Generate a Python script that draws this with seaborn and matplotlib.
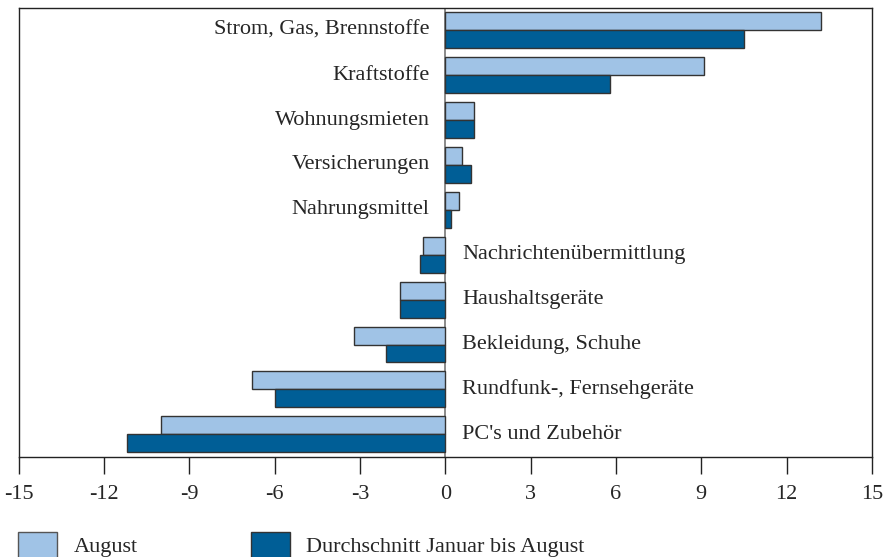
import pandas as pd
import seaborn as sns
from matplotlib import pyplot as plt
from matplotlib.patches import Patch

# data (Veränderung gegenüber Vorjahr in %)
categories = ["Strom, Gas, Brennstoffe", "Kraftstoffe", "Wohnungsmieten", "Versicherungen",
              "Nahrungsmittel", "Nachrichtenübermittlung", "Haushaltsgeräte",
              "Bekleidung, Schuhe", "Rundfunk-, Fernsehgeräte", "PC's und Zubehör"]
august = [13.2, 9.1, 1.0, 0.6, 0.5, -0.8, -1.6, -3.2, -6.8, -10.0]
durchschnitt = [10.5, 5.8, 1.0, 0.9, 0.2, -0.9, -1.6, -2.1, -6.0, -11.2]
series_names = ["August", "Durchschnitt Januar bis August"]
xticks = [-15, -12, -9, -6, -3, 0, 3, 6, 9, 12, 15]

light = "#A0C3E6"
dark = "#005E96"
fs = 16

df = pd.DataFrame({
    "kategorie": categories * 2,
    "wert": august + durchschnitt,
    "reihe": [series_names[0]] * len(categories) + [series_names[1]] * len(categories),
})

sns.set_style("white")
plt.rcParams["font.family"] = ["Liberation Serif", "DejaVu Serif"]

fig, ax = plt.subplots(figsize=(8.87, 5.57), dpi=100)
fig.subplots_adjust(left=0.021, right=0.983, top=0.986, bottom=0.18)

sns.barplot(data=df, x="wert", y="kategorie", hue="reihe", orient="h",
            palette=[light, dark], saturation=1, order=categories, hue_order=series_names,
            width=0.8, edgecolor="#333333", linewidth=1.0, legend=False, ax=ax)

ax.set_xlim(-15, 15)
ax.set_ylim(len(categories) - 0.5, -0.5)
ax.axvline(0, color="#777777", linewidth=1.2, zorder=0)

# category labels next to the zero line
ax.set_yticks([])
for i, (name, val) in enumerate(zip(categories, august)):
    if val >= 0:
        ax.text(-0.55, i, name, ha="right", va="center", fontsize=fs)
    else:
        ax.text(0.6, i, name, ha="left", va="center", fontsize=fs)

ax.set_xticks(xticks)
ax.set_xticklabels([str(t) for t in xticks], fontsize=fs)
ax.tick_params(axis="x", direction="out", length=12, width=1, color="#222222", pad=8, bottom=True)
ax.set_xlabel("")
ax.set_ylabel("")
for s in ax.spines.values():
    s.set_color("#222222")
    s.set_linewidth(1.0)

handles = [Patch(facecolor=light, edgecolor="#555555"), Patch(facecolor=dark, edgecolor="#333333")]
fig.legend(handles, series_names, loc="upper left", bbox_to_anchor=(0.02, 0.045), ncol=2,
           frameon=False, fontsize=fs, handlelength=1.75, handleheight=1.45,
           handletextpad=0.75, columnspacing=5.1, borderpad=0, borderaxespad=0)

plt.savefig("out.png", dpi=100)
